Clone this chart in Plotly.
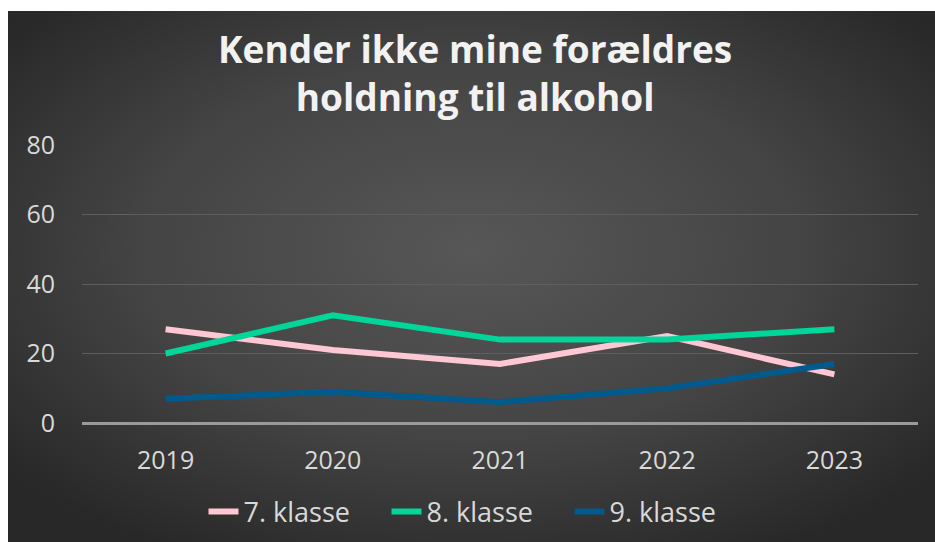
import base64
import plotly.graph_objects as go

years = ["2019", "2020", "2021", "2022", "2023"]
klasse7 = [27, 21, 17, 25, 14]
klasse8 = [20, 31, 24, 24, 27]
klasse9 = [7, 9, 6, 10, 17]
series_names = ["7. klasse", "8. klasse", "9. klasse"]
series_colors = ["#FFC7D4", "#00D59A", "#005A8C"]
y_ticks = [0, 20, 40, 60, 80]
title_text = "Kender ikke mine forældres<br>holdning til alkohol"

FONT = "Open Sans"

W, H = 935, 542
ml, mr, mt, mb = 82, 17, 145, 119
pw, ph = W - ml - mr, H - mt - mb

svg = (
    '<svg xmlns="http://www.w3.org/2000/svg" width="927" height="531" viewBox="0 0 927 531" preserveAspectRatio="none">'
    '<defs><radialGradient id="g" cx="50%" cy="45%" r="65%">'
    '<stop offset="0" stop-color="#575757"/>'
    '<stop offset="0.55" stop-color="#444444"/>'
    '<stop offset="1" stop-color="#282828"/>'
    '</radialGradient></defs>'
    '<rect width="927" height="531" fill="url(#g)"/></svg>'
)
src = "data:image/svg+xml;base64," + base64.b64encode(svg.encode()).decode()

def px_x(p):
    return (p - ml) / pw

def px_y(p):
    return (H - mb - p) / ph

fig = go.Figure()
for name, vals, col in zip(series_names, [klasse7, klasse8, klasse9], series_colors):
    fig.add_trace(go.Scatter(
        x=years, y=vals, name=name, mode="lines",
        line=dict(color=col, width=6),
    ))

fig.add_layout_image(dict(
    source=src, xref="paper", yref="paper",
    x=px_x(8), y=px_y(11), sizex=(935 - 8) / pw, sizey=(542 - 11) / ph,
    xanchor="left", yanchor="top", sizing="stretch", layer="below",
))

fig.add_annotation(
    text="<b>" + title_text + "</b>", xref="paper", yref="paper",
    x=px_x(475), y=px_y(72), xanchor="center", yanchor="middle",
    showarrow=False, align="center",
    font=dict(family=FONT, size=37, color="#F2F2F2"),
)

fig.update_layout(
    width=W, height=H,
    margin=dict(l=ml, r=mr, t=mt, b=mb, autoexpand=False),
    paper_bgcolor="white",
    plot_bgcolor="rgba(0,0,0,0)",
    showlegend=True,
    legend=dict(
        orientation="h", x=px_x(478), xanchor="center", y=px_y(512), yanchor="middle",
        font=dict(family=FONT, size=27, color="#D9D9D9"),
        bgcolor="rgba(0,0,0,0)", itemwidth=30, entrywidth=138, entrywidthmode="pixels",
    ),
    xaxis=dict(
        type="category", range=[-0.5, 4.5], showgrid=False, zeroline=False,
        showline=False, ticks="", tickfont=dict(family=FONT, size=25, color="#D9D9D9"),
        ticklabelstandoff=20, automargin=False,
    ),
    yaxis=dict(
        range=[0, 80], tickvals=y_ticks, showgrid=True, gridcolor="#5E5E5E", gridwidth=1,
        zeroline=True, zerolinecolor="#9A9A9A", zerolinewidth=2.5,
        showline=False, ticks="", tickfont=dict(family=FONT, size=25, color="#D9D9D9"),
        ticklabelstandoff=26, automargin=False,
    ),
)

fig.write_html("out.html", post_script="document.body.style.margin='0';",
               config={"displayModeBar": False})
